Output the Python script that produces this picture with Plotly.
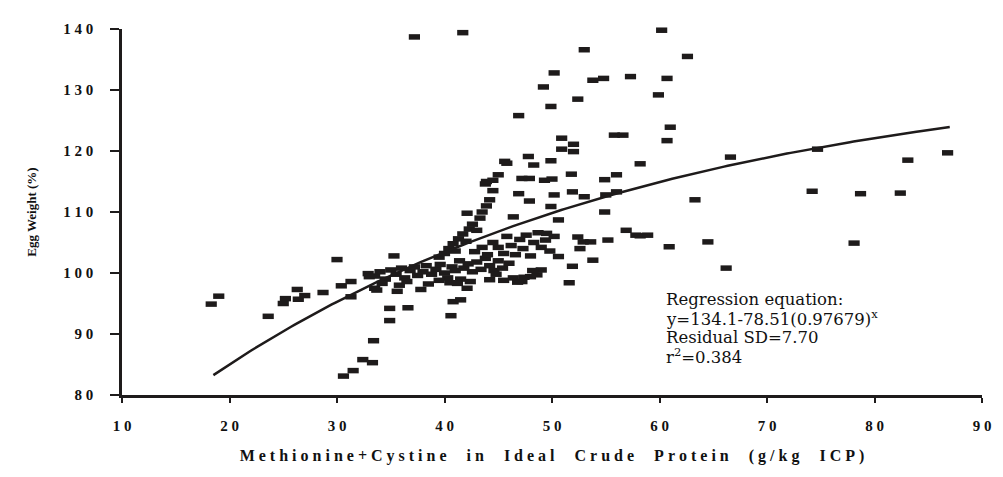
import numpy as np
import plotly.graph_objects as go

# Methionine+Cystine (g/kg ICP) vs relative egg weight (%)
met_cys = [
    18.3, 19.0, 23.6, 25.0, 25.2, 26.3, 26.4, 27.0, 28.7, 30.0, 30.4, 30.6, 31.3, 31.3,
    31.5, 32.4, 33.3, 33.4, 32.9, 33.0, 33.5, 33.7, 34.9, 36.6, 34.9, 35.3, 35.6, 37.8,
    40.8, 41.5, 40.6, 42.1, 37.2, 41.7,
    # dense band around 100 %
    33.5, 34.0, 34.5, 35.0, 35.5, 36.0, 36.3, 36.8, 37.2, 37.5, 38.0, 38.3, 38.8, 39.2,
    39.6, 40.0, 40.3, 40.7, 41.0, 41.4, 41.8, 42.2, 42.6, 43.0, 43.4, 43.8, 44.2, 44.6,
    45.0, 34.2, 35.8, 36.5, 38.5, 39.5, 40.5, 41.5, 42.4,
    # rising arm
    39.5, 40.0, 40.4, 40.8, 41.0, 41.3, 41.7, 42.0, 42.3, 42.6, 43.0, 43.3, 43.5, 43.9,
    44.2, 44.5, 42.1, 43.8, 44.5, 45.0, 45.6, 45.8,
    # lower band 42-50
    42.8, 43.5, 44.0, 44.5, 45.0, 45.5, 45.8, 46.2, 46.6, 47.0, 47.3, 47.6, 48.0, 48.3,
    48.7, 49.0, 49.4, 49.8, 50.2, 46.0, 44.8, 45.4, 46.4, 47.2, 48.0,
    # upper scatter
    46.9, 49.2, 49.9, 50.2, 53.0, 52.4, 53.8, 54.8, 57.3, 60.2, 62.6, 60.7, 59.9, 61.0,
    60.7, 55.8, 56.6, 50.9, 50.9, 52.0, 52.0, 47.8, 48.3, 49.9, 58.2, 51.8, 54.9, 56.0,
    47.2, 47.9, 49.3, 50.0, 43.9, 46.9, 47.9, 50.2, 49.9, 51.9, 53.0, 55.0, 56.0, 63.3,
    54.9, 46.4, 50.6, 49.5, 56.9, 57.8, 58.2, 58.9, 52.4, 52.9, 53.6, 55.2, 52.6, 60.9,
    64.5, 50.6, 53.8, 51.9, 51.6, 48.6, 49.0, 44.2, 45.5, 46.8, 41.2, 48.2, 47.4,
    # high inclusion levels
    66.6, 66.2, 74.7, 74.2, 78.7, 82.4, 78.1, 83.1, 86.8,
]
egg_weight = [
    94.9, 96.2, 92.9, 95.0, 95.8, 97.3, 95.7, 96.3, 96.8, 102.2, 97.9, 83.1, 98.6, 96.1,
    84.0, 85.8, 85.3, 88.9, 99.9, 99.4, 97.5, 97.2, 94.2, 94.3, 92.2, 102.8, 97.0, 97.3,
    95.3, 95.6, 93.0, 97.5, 138.7, 139.4,
    99.5, 100.2, 99.0, 100.5, 99.8, 100.8, 99.2, 100.4, 101.0, 99.6, 100.2, 101.2, 99.8, 100.6,
    101.4, 100.0, 99.2, 101.0, 100.4, 102.0, 100.8, 101.5, 100.2, 101.8, 100.6, 102.4, 101.2, 100.4,
    102.0, 98.3, 98.0, 98.6, 98.2, 98.8, 98.4, 99.0, 98.6,
    102.6, 103.2, 104.0, 104.8, 103.6, 105.6, 106.4, 105.2, 107.2, 108.0, 107.0, 109.0, 110.0, 111.0,
    112.0, 113.5, 109.8, 114.6, 115.2, 116.1, 118.3, 118.0,
    103.5, 104.2, 103.0, 105.0, 104.2, 103.2, 106.0, 104.5, 103.0, 105.5, 104.0, 106.2, 102.8, 105.0,
    106.6, 104.2, 105.4, 103.6, 106.0, 101.6, 99.8, 100.8, 99.2, 98.6, 99.4,
    125.8, 130.5, 127.3, 132.8, 136.6, 128.5, 131.6, 131.9, 132.2, 139.8, 135.5, 131.9, 129.2, 123.9,
    121.7, 122.6, 122.6, 122.1, 120.3, 121.1, 119.9, 119.1, 117.7, 118.4, 117.9, 116.2, 115.3, 116.1,
    115.5, 115.5, 115.2, 115.4, 115.0, 113.0, 111.8, 112.8, 110.9, 113.3, 112.5, 112.8, 113.3, 112.0,
    110.0, 109.2, 108.7, 106.5, 107.0, 106.2, 106.1, 106.2, 105.9, 105.1, 105.1, 105.4, 104.0, 104.3,
    105.1, 102.7, 102.1, 101.1, 98.4, 99.7, 100.5, 98.9, 98.8, 98.5, 98.3, 100.4, 99.3,
    119.0, 100.8, 120.3, 113.4, 113.0, 113.1, 104.9, 118.5, 119.7,
]

# Fitted exponential: y = a - b * r^x
fit_a, fit_b, fit_r = 134.1, 78.51, 0.97679
fit_x = np.linspace(18.5, 87, 200)
fit_y = fit_a - fit_b * fit_r ** fit_x

x_ticks = [10, 20, 30, 40, 50, 60, 70, 80, 90]
y_ticks = [80, 90, 100, 110, 120, 130, 140]

stats_lines = [
    "Regression equation:",
    "y=134.1-78.51(0.97679)<sup>x</sup>",
    "Residual SD=7.70",
    "r<sup>2</sup>=0.384",
]

NBSP = "\u00a0"


def spaced(s, word_gap=3):
    # letter-spaced label: non-breaking spaces keep the gaps from collapsing
    return (NBSP * word_gap).join(NBSP.join(w) for w in s.split(" "))


ink = "#1e1b1b"
serif = "Liberation Serif, Times New Roman, serif"

plot_l, plot_r, plot_t, plot_b = 122, 989, 29, 395

fig = go.Figure()
fig.add_trace(go.Scatter(
    x=met_cys, y=egg_weight, mode="markers",
    marker=dict(symbol="line-ew", size=8, line=dict(width=5.5, color=ink), color=ink),
    showlegend=False, cliponaxis=False,
))
fig.add_trace(go.Scatter(
    x=fit_x, y=fit_y, mode="lines",
    line=dict(color=ink, width=2.5), showlegend=False,
))

# regression statistics block, one annotation per line
for i, line in enumerate(stats_lines):
    cy = 299 + i * 19
    fig.add_annotation(
        x=(668 - plot_l) / (plot_r - plot_l), y=(plot_b - cy) / (plot_b - plot_t),
        xref="paper", yref="paper", showarrow=False,
        xanchor="left", yanchor="middle", align="left",
        text=line, font=dict(family="DejaVu Serif", size=16.5, color="#111"),
    )

fig.update_layout(
    width=1003, height=477,
    margin=dict(l=plot_l, r=1003 - plot_r, t=plot_t, b=477 - plot_b),
    paper_bgcolor="white", plot_bgcolor="white",
    font=dict(family=serif, color="#111"),
    xaxis=dict(
        range=[10, 90], tickvals=x_ticks, ticktext=[spaced(str(v)) for v in x_ticks],
        showgrid=False, zeroline=False, showline=True, linecolor=ink, linewidth=2.5,
        ticks="outside", ticklen=5, tickwidth=1.5, tickcolor=ink,
        tickfont=dict(family=serif, size=15, color="#111", weight="bold"),
        ticklabelstandoff=10,
        title=dict(text=spaced("Methionine+Cystine in Ideal Crude Protein (g/kg ICP)", 5),
                   font=dict(family=serif, size=16, color="#111", weight="bold"),
                   standoff=18),
    ),
    yaxis=dict(
        range=[80, 140], tickvals=y_ticks, ticktext=[spaced(str(v)) for v in y_ticks],
        showgrid=False, zeroline=False, showline=True, linecolor=ink, linewidth=2.5,
        ticks="outside", ticklen=9, tickwidth=1.5, tickcolor=ink,
        tickfont=dict(family=serif, size=15, color="#111", weight="bold"),
        ticklabelstandoff=14,
        title=dict(text="Egg Weight (%)",
                   font=dict(family=serif, size=13, color="#111", weight="bold"),
                   standoff=24),
    ),
)

fig.write_html("out.html")
